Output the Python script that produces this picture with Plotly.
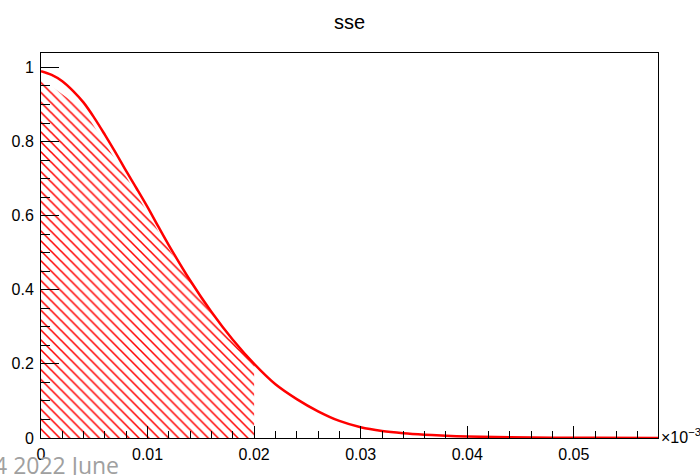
import plotly.graph_objects as go

# Curve sampled along x (axis units are x 10^-3)
curve_x = [0.0, 0.001, 0.002, 0.003, 0.004, 0.005, 0.006, 0.007, 0.008, 0.009,
           0.010, 0.011, 0.012, 0.014, 0.016, 0.018, 0.020, 0.022, 0.024, 0.026,
           0.028, 0.030, 0.032, 0.034, 0.036, 0.038, 0.040, 0.044, 0.048, 0.052,
           0.058]
curve_y = [0.990, 0.980, 0.963, 0.937, 0.905, 0.864, 0.818, 0.770, 0.720, 0.672,
           0.623, 0.571, 0.520, 0.425, 0.340, 0.265, 0.200, 0.145, 0.105, 0.072,
           0.046, 0.029, 0.019, 0.013, 0.009, 0.006, 0.004, 0.002, 0.001, 0.0005,
           0.0002]

# Hatched region under the curve, up to x = 0.02
fill_x = [0.0, 0.004, 0.008, 0.012, 0.016, 0.020]
fill_y = [0.970, 0.885, 0.705, 0.510, 0.335, 0.197]

x_ticks = [0, 0.01, 0.02, 0.03, 0.04, 0.05]
x_tick_text = ["0", "0.01", "0.02", "0.03", "0.04", "0.05"]
y_ticks = [0, 0.2, 0.4, 0.6, 0.8, 1.0]
y_tick_text = ["0", "0.2", "0.4", "0.6", "0.8", "1"]

RED = "#ff0000"
FONT = "Liberation Sans, Arial, Helvetica, sans-serif"

fig = go.Figure()

fig.add_trace(go.Scatter(
    x=fill_x, y=fill_y, mode="lines", fill="tozeroy",
    line=dict(width=0, color=RED),
    fillcolor="rgba(0,0,0,0)",
    fillpattern=dict(shape="\\", fgcolor=RED, fgopacity=1, bgcolor="rgba(0,0,0,0)",
                     size=7, solidity=0.22, fillmode="overlay"),
    hoverinfo="skip", showlegend=False,
))

fig.add_trace(go.Scatter(
    x=curve_x, y=curve_y, mode="lines",
    line=dict(color=RED, width=2.5, shape="spline", smoothing=1.0),
    showlegend=False,
))

fig.update_layout(
    width=700, height=475,
    margin=dict(l=40, r=42, t=53, b=22),
    paper_bgcolor="white", plot_bgcolor="white",
    font=dict(family=FONT, size=16, color="black"),
    title=dict(text="sse", x=0.5, xref="paper", xanchor="center",
               y=1 - 22 / 475, yref="container", yanchor="middle",
               font=dict(family=FONT, size=20, color="black")),
)

fig.update_xaxes(
    range=[0, 0.0579], showgrid=False, zeroline=False,
    showline=True, linecolor="black", linewidth=1, mirror=True,
    ticks="inside", ticklen=12, tickwidth=1, tickcolor="black",
    tickvals=x_ticks, ticktext=x_tick_text,
    tickfont=dict(family=FONT, size=16, color="black"),
    minor=dict(ticks="inside", ticklen=7, tickwidth=1, tickcolor="black",
               dtick=0.002, tick0=0, showgrid=False),
    ticklabelstandoff=2,
)
fig.update_yaxes(
    range=[0, 1.039], showgrid=False, zeroline=False,
    showline=True, linecolor="black", linewidth=1, mirror=True,
    ticks="inside", ticklen=18, tickwidth=1, tickcolor="black",
    tickvals=y_ticks, ticktext=y_tick_text,
    tickfont=dict(family=FONT, size=16, color="black"),
    minor=dict(ticks="inside", ticklen=9, tickwidth=1, tickcolor="black",
               dtick=0.05, tick0=0, showgrid=False),
    ticklabelstandoff=3,
)

# Axis exponent label
fig.add_annotation(
    text="\u00d710<sup>\u22123</sup>", xref="paper", yref="paper",
    x=1.0, y=0.0, xanchor="left", yanchor="middle", xshift=1, yshift=2,
    showarrow=False, font=dict(family=FONT, size=16, color="black"),
)

# Footer text of the slide
fig.add_annotation(
    text="4 2022 June", xref="paper", yref="paper",
    x=-40 / 618, y=0.0, xanchor="left", yanchor="top", xshift=-9, yshift=-9,
    showarrow=False, font=dict(family="Open Sans, sans-serif", size=23, color="#a0a0a0"),
)

fig.write_html("out.html")
